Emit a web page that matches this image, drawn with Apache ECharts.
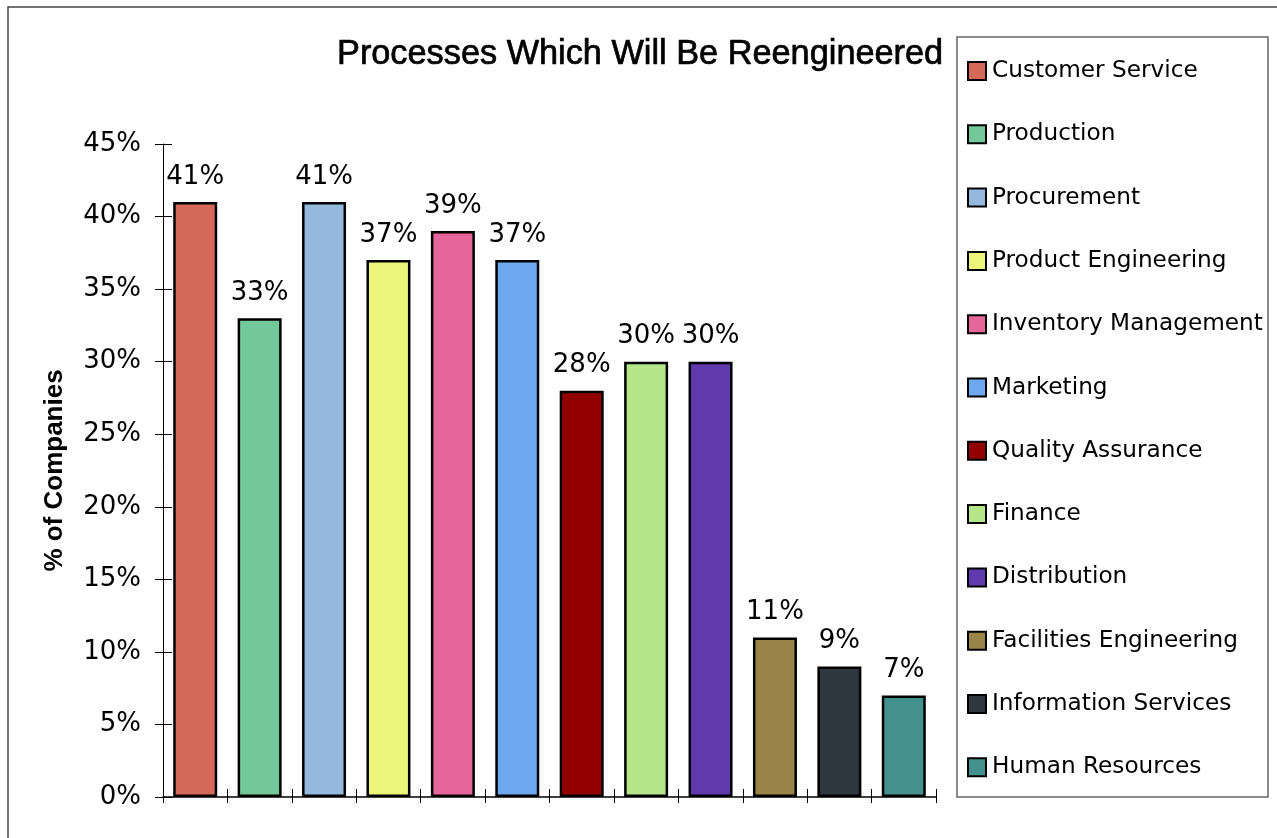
<!DOCTYPE html>
<html>
<head>
<meta charset="utf-8">
<title>Processes Which Will Be Reengineered</title>
<script src="https://cdn.jsdelivr.net/npm/echarts@6/dist/echarts.min.js"></script>
<style>
  html, body { margin: 0; padding: 0; background: #ffffff; }
  #chart { width: 1277px; height: 838px; }
</style>
</head>
<body>
<div id="chart"></div>
<script>
// Process categories, share of companies (%) and bar colours
const processes = [
  'Customer Service', 'Production', 'Procurement', 'Product Engineering',
  'Inventory Management', 'Marketing', 'Quality Assurance', 'Finance',
  'Distribution', 'Facilities Engineering', 'Information Services', 'Human Resources'
];
const shares = [41, 33, 41, 37, 39, 37, 28, 30, 30, 11, 9, 7];
const colors = [
  '#d4695a', '#72c899', '#95b9dd', '#ecf47a',
  '#e6659b', '#6ea8ef', '#930000', '#b5e68a',
  '#6039ad', '#988547', '#2f373f', '#43918c'
];
const yTicks = { min: 0, max: 45, step: 5 };

const LABEL_FONT = '"DejaVu Sans", sans-serif';

// One series per process so every bar gets its own legend entry;
// stacking keeps each bar centred in its own category slot.
const series = processes.map((name, i) => ({
  name: name,
  type: 'bar',
  stack: 'all',
  barWidth: 44,
  data: processes.map((_, j) => (j === i ? shares[i] : '-')),
  itemStyle: { color: colors[i], borderColor: '#000000', borderWidth: 2.5 },
  label: {
    show: true,
    position: 'top',
    distance: 12,
    formatter: '{c}%',
    color: '#000000',
    fontFamily: LABEL_FONT,
    fontSize: 26
  }
}));

const chart = echarts.init(document.getElementById('chart'), null, { renderer: 'canvas' });

chart.setOption({
  animation: false,
  backgroundColor: '#ffffff',
  title: {
    text: 'Processes Which Will Be Reengineered',
    left: 337,
    top: 38,
    padding: 0,
    textStyle: {
      fontFamily: '"Liberation Sans", Arial, sans-serif',
      fontSize: 34.3,
      fontWeight: 'normal',
      color: '#000000',
      textBorderColor: '#000000',
      textBorderWidth: 0.7
    }
  },
  legend: {
    orient: 'vertical',
    left: 967,
    top: 59,
    padding: 0,
    itemGap: 39.3,
    itemWidth: 18,
    itemHeight: 18,
    icon: 'rect',
    selectedMode: false,
    data: processes,
    textStyle: {
      fontFamily: LABEL_FONT,
      fontSize: 23.2,
      lineHeight: 24,
      color: '#000000',
      padding: [0, 0, 0, 1]
    }
  },
  grid: { left: 163, right: 341, top: 144, bottom: 41, containLabel: false },
  xAxis: [
    {
      type: 'category',
      data: processes,
      boundaryGap: true,
      axisLine: { show: true, lineStyle: { color: '#000000', width: 1.5 } },
      axisTick: { show: true, interval: 0, length: 6, lineStyle: { color: '#000000', width: 1 } },
      axisLabel: { show: false },
      splitLine: { show: false }
    },
    {
      // inner half of the crossing tick marks
      type: 'category',
      data: processes,
      position: 'bottom',
      boundaryGap: true,
      axisLine: { show: false },
      axisTick: { show: true, interval: 0, inside: true, length: 8, lineStyle: { color: '#000000', width: 1 } },
      axisLabel: { show: false },
      splitLine: { show: false }
    }
  ],
  yAxis: [
    {
      type: 'value',
      min: yTicks.min,
      max: yTicks.max,
      interval: yTicks.step,
      name: '% of Companies',
      nameLocation: 'middle',
      nameGap: 95,
      nameTextStyle: {
        fontFamily: '"Liberation Sans", Arial, sans-serif',
        fontSize: 26,
        fontWeight: 'bold',
        color: '#000000'
      },
      axisLine: { show: true, lineStyle: { color: '#000000', width: 1 } },
      axisTick: { show: true, length: 8, lineStyle: { color: '#000000', width: 1 } },
      axisLabel: {
        margin: 22,
        formatter: '{value}%',
        fontFamily: LABEL_FONT,
        fontSize: 26,
        color: '#000000'
      },
      splitLine: { show: false }
    },
    {
      type: 'value',
      position: 'left',
      min: yTicks.min,
      max: yTicks.max,
      interval: yTicks.step,
      axisLine: { show: false },
      axisTick: { show: true, inside: true, length: 9, lineStyle: { color: '#000000', width: 1 } },
      axisLabel: { show: false },
      splitLine: { show: false }
    }
  ],
  graphic: [
    {
      type: 'rect',
      silent: true,
      z: -10,
      shape: { x: 8, y: 7, width: 1300, height: 900 },
      style: { fill: 'none', stroke: '#444444', lineWidth: 1.5 }
    },
    {
      type: 'rect',
      silent: true,
      z: -5,
      shape: { x: 957, y: 37, width: 311, height: 760 },
      style: { fill: '#ffffff', stroke: '#666666', lineWidth: 1.5 }
    }
  ],
  series: series
});
</script>
</body>
</html>
